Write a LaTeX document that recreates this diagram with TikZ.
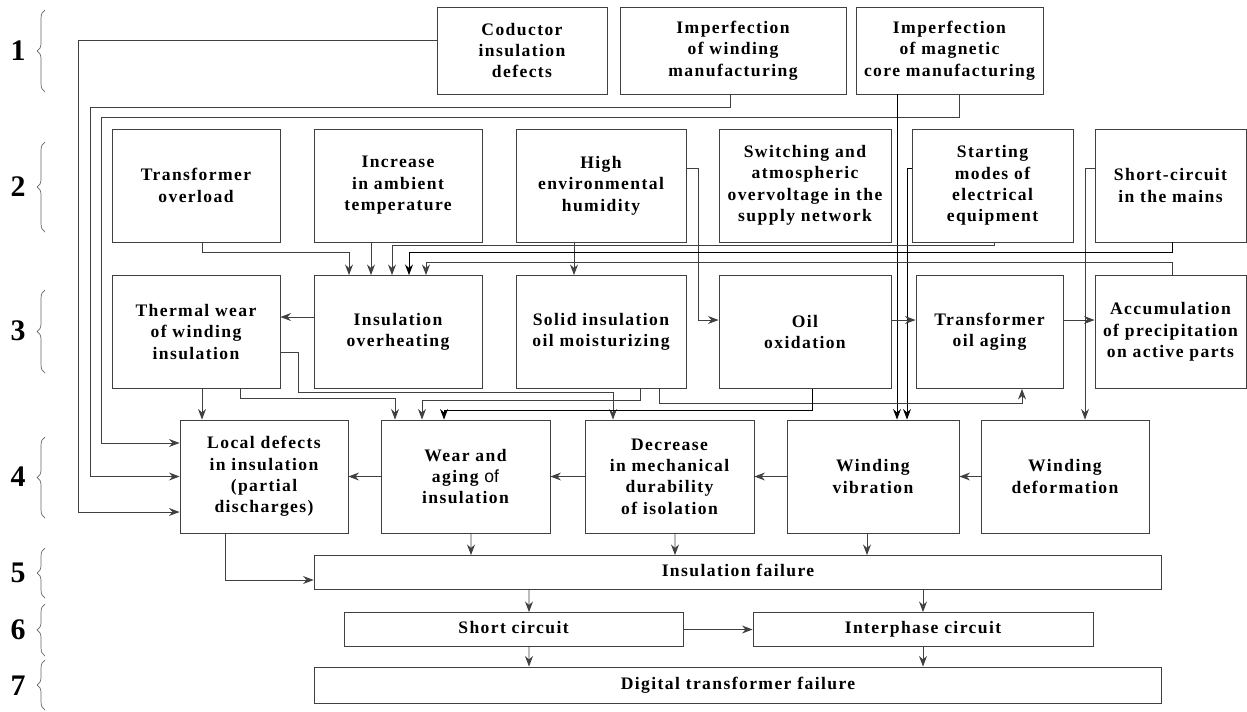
\documentclass[tikz,border=0pt]{standalone}
\usepackage{fontspec}
\setmainfont{Liberation Serif}
\newfontfamily\offont{Liberation Sans}
\usepackage{tikz}
\usetikzlibrary{arrows.meta,calc,decorations.pathreplacing}

\begin{document}
\begin{tikzpicture}[x=0.02cm,y=-0.02cm,
    blk/.style={draw=black!75, line width=0.5pt, align=center, inner sep=1pt,
        font=\fontsize{10}{12.2}\selectfont\bfseries\addfontfeature{LetterSpace=8}},
    rowA/.style={blk, minimum height=1.74cm},
    rowB/.style={blk, minimum height=2.26cm},
    flat/.style={blk, minimum height=0.68cm, execute at begin node=\strut},
    arr/.style={draw=black!75, line width=0.5pt, -{Stealth[length=6pt,width=4.5pt]}},
    dk/.style={draw=black},
    brc/.style={draw=black!60, line width=0.4pt, decorate, decoration={brace, amplitude=4.5pt}},
    lvl/.style={font=\fontsize{17}{20}\selectfont\bfseries}]
    \useasboundingbox (0,0) rectangle (1247,711);

    % Level numbers and braces
    \node[lvl] (n1) at (18,51) {1};
    \node[lvl] (n2) at (18,187) {2};
    \node[lvl] (n3) at (18,331) {3};
    \node[lvl] (n4) at (18,477) {4};
    \node[lvl] (n5) at (18,573) {5};
    \node[lvl] (n6) at (18,630) {6};
    \node[lvl] (n7) at (18,686) {7};
    \draw[brc] (45,92) -- (45,10);
    \draw[brc] (45,232) -- (45,142);
    \draw[brc] (45,373) -- (45,290);
    \draw[brc] (45,518) -- (45,437);
    \draw[brc] (45,598) -- (45,548);
    \draw[brc] (45,656) -- (45,604);
    \draw[brc] (45,710) -- (45,660);

    % Level 1: manufacturing defects
    \node[rowA, minimum width=3.4cm] (cond) at (522,50.5) {Coductor\\insulation\\defects};
    \node[rowA, minimum width=4.52cm] (wind) at (733,50.5) {Imperfection\\of winding\\manufacturing};
    \node[rowA, minimum width=3.74cm] (core) at (949.5,50.5) {Imperfection\\of magnetic\\core manufacturing};

    % Level 2: external factors
    \node[rowB, minimum width=3.36cm] (ovl) at (196,185.5) {Transformer\\overload};
    \node[rowB, minimum width=3.36cm] (amb) at (398,185.5) {Increase\\in ambient\\temperature};
    \node[rowB, minimum width=3.4cm] (hum) at (601,185.5) {High\\environmental\\humidity};
    \node[rowB, minimum width=3.44cm] (sw) at (805,185.5) {Switching and\\atmospheric\\overvoltage in the\\supply network};
    \node[rowB, minimum width=3.22cm] (start) at (992.5,185.5) {Starting\\modes of\\electrical\\equipment};
    \node[rowB, minimum width=3.02cm] (scm) at (1170.5,185.5) {Short-circuit\\in the mains};

    % Level 3: processes
    \node[rowB, minimum width=3.36cm] (thw) at (196,332) {Thermal wear\\of winding\\insulation};
    \node[rowB, minimum width=3.36cm] (ovh) at (398,332) {Insulation\\overheating};
    \node[rowB, minimum width=3.4cm] (moist) at (601,332) {Solid insulation\\oil moisturizing};
    \node[rowB, minimum width=3.44cm] (oxi) at (805,332) {Oil\\oxidation};
    \node[rowB, minimum width=2.94cm] (oag) at (989.5,332) {Transformer\\oil aging};
    \node[rowB, minimum width=3.02cm] (acc) at (1170.5,332) {Accumulation\\of precipitation\\on active parts};

    % Level 4: damage
    \node[rowB, minimum width=3.36cm] (loc) at (264,476.5) {Local defects\\in insulation\\(partial\\discharges)};
    \node[rowB, minimum width=3.38cm] (wag) at (465.5,476.5) {Wear and\\aging {\offont\mdseries of}\\insulation};
    \node[rowB, minimum width=3.38cm] (dec) at (669.5,476.5) {Decrease\\in mechanical\\durability\\of isolation};
    \node[rowB, minimum width=3.44cm] (vib) at (873,476.5) {Winding\\vibration};
    \node[rowB, minimum width=3.36cm] (def) at (1065,476.5) {Winding\\deformation};

    % Levels 5-7: failures
    \node[flat, minimum width=16.96cm] (fail) at (738,572.5) {Insulation failure};
    \node[flat, minimum width=6.78cm] (sc) at (513.5,629.5) {Short circuit};
    \node[flat, minimum width=6.8cm] (inter) at (923,629.5) {Interphase circuit};
    \node[flat, minimum width=16.96cm, minimum height=0.72cm] (dig) at (738,685) {Digital transformer failure};

    % Level 1 -> level 4
    \draw[arr] ($(cond.west)+(0,-10.5)$) -| ($(loc.west)+(-101,35.5)$) -- ($(loc.west)+(0,35.5)$);
    \draw[arr] ($(wind.south)+(-3,0)$) -- ++(0,13) -| ($(loc.west)+(-89,0)$) -- (loc.west);
    \draw[arr] ($(core.south)+(9.5,0)$) -- ++(0,23) -| ($(loc.west)+(-78,-33.5)$) -- ($(loc.west)+(0,-33.5)$);
    \draw[arr,dk] ($(core.south)+(-52.5,0)$) -- ($(vib.north)+(24,0)$);

    % Level 2 -> levels 3 and 4
    \draw[arr,dk] ($(start.west)+(0,-17.5)$) -| ($(vib.north)+(34,0)$);
    \draw[arr] ($(scm.west)+(0,-17.5)$) -| ($(def.north)+(20,0)$);
    \draw[arr] ($(hum.east)+(0,-17.5)$) -- ++(12,0) |- ($(oxi.west)+(0,-12)$);
    \draw[arr] ($(hum.south)+(-27,0)$) -- ($(moist.north)+(-27,0)$);
    \draw[arr] ($(ovl.south)+(6,0)$) -- ++(0,10) -| ($(ovh.north)+(-49,0)$);
    \draw[arr] ($(amb.south)+(-27,0)$) -- ($(ovh.north)+(-27,0)$);
    \draw[arr] ($(start.south)+(1.5,0)$) -- ++(0,3) -| ($(ovh.north)+(-6,0)$);
    \draw[arr,dk] ($(scm.south)+(1.5,0)$) -- ++(0,10) -| ($(ovh.north)+(11,0)$);
    \draw[arr] ($(acc.north)+(1.5,0)$) -- ++(0,-13) -| ($(ovh.north)+(28,0)$);

    % Level 3
    \draw[arr] ($(ovh.west)+(0,-15)$) -- ($(thw.east)+(0,-15)$);
    \draw[arr] ($(oxi.east)+(0,-12)$) -- ($(oag.west)+(0,-12)$);
    \draw[arr] ($(oag.east)+(0,-12)$) -- ($(acc.west)+(0,-12)$);

    % Level 3 -> level 4
    \draw[arr] ($(thw.south)+(6,0)$) -- ($(loc.north)+(-62,0)$);
    \draw[arr] ($(thw.east)+(0,20)$) -- ++(18,0) -- ++(0,40) -| ($(dec.north)+(-56.5,0)$);
    \draw[arr] ($(thw.south)+(44,0)$) -- ++(0,10) -| ($(wag.north)+(-70.5,0)$);
    \draw[arr] ($(moist.south)+(39,0)$) -- ++(0,12) -| ($(wag.north)+(-43.5,0)$);
    \draw[arr] ($(moist.south)+(58,0)$) -- ++(0,15) -| ($(oag.south)+(32.5,0)$);
    \draw[arr,dk] ($(oxi.south)+(7,0)$) -- ++(0,22) -| ($(wag.north)+(-21.5,0)$);

    % Level 4
    \draw[arr] (wag.west) -- (loc.east);
    \draw[arr] (dec.west) -- (wag.east);
    \draw[arr] (vib.west) -- (dec.east);
    \draw[arr] (def.west) -- (vib.east);

    % Level 4 -> failures
    \draw[arr] ($(loc.south)+(-39,0)$) |- ($(fail.west)+(0,7.5)$);
    \draw[arr] ($(wag.south)+(5.5,0)$) -- ($(fail.north)+(-267,0)$);
    \draw[arr] ($(dec.south)+(5.5,0)$) -- ($(fail.north)+(-63,0)$);
    \draw[arr] ($(vib.south)+(-6,0)$) -- ($(fail.north)+(129,0)$);
    \draw[arr] ($(fail.south)+(-209,0)$) -- ($(sc.north)+(15.5,0)$);
    \draw[arr] ($(fail.south)+(185,0)$) -- (inter.north);
    \draw[arr] (sc.east) -- (inter.west);
    \draw[arr] ($(sc.south)+(15.5,0)$) -- ($(dig.north)+(-209,0)$);
    \draw[arr] (inter.south) -- ($(dig.north)+(185,0)$);
\end{tikzpicture}
\end{document}
